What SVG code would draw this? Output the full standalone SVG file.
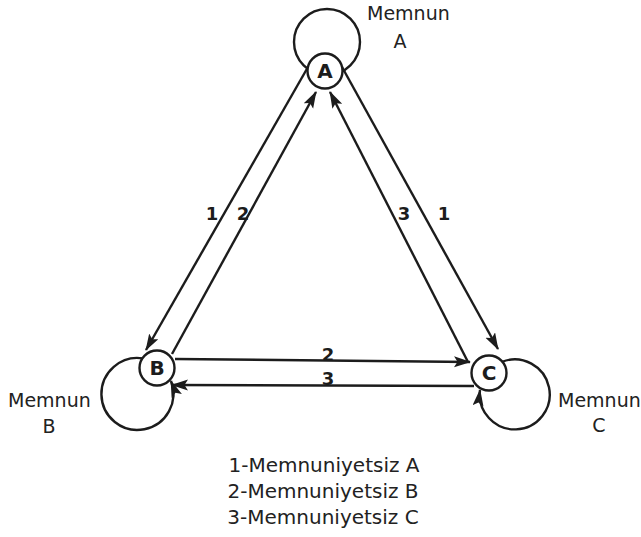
<svg xmlns="http://www.w3.org/2000/svg" width="641" height="537" viewBox="0 0 641 537">
<style>
  .ln { stroke: #1c1c1c; stroke-width: 2.4; fill: none; }
  .arr { marker-end: url(#ah); }
  .nd { fill: #fff; stroke: #1c1c1c; stroke-width: 2.4; }
  .nl { font-family: "DejaVu Sans", sans-serif; font-size: 20px; font-weight: bold; fill: #1c1c1c; text-anchor: middle; }
  .el { font-family: "DejaVu Sans", sans-serif; font-size: 18px; font-weight: bold; fill: #1c1c1c; text-anchor: middle; }
  .tx { font-family: "DejaVu Sans", sans-serif; font-size: 19px; fill: #222; }
  .lg { font-family: "DejaVu Sans", sans-serif; font-size: 20px; fill: #222; text-anchor: middle; }
</style>
<defs>
  <marker id="ah" markerUnits="userSpaceOnUse" markerWidth="18" markerHeight="12" refX="16" refY="5.5" orient="auto">
    <path d="M0,0 L17,5.5 L0,11 L3.5,5.5 Z" fill="#1c1c1c"/>
  </marker>
</defs>
<rect width="641" height="537" fill="#fff"/>
<g id="connectors">
  <!-- self loops -->
  <circle class="ln" cx="327" cy="42" r="33"/>
  <path class="ln arr" d="M143,358.4 A36,36 0 1 0 171,381"/>
  <path class="ln arr" d="M502,361.8 A35,35 0 1 1 480,390"/>
  <!-- A-B -->
  <line class="ln arr" x1="308" y1="67" x2="146" y2="350"/>
  <line class="ln arr" x1="172" y1="354" x2="316" y2="92"/>
  <!-- A-C -->
  <line class="ln arr" x1="342" y1="67" x2="498" y2="349"/>
  <line class="ln arr" x1="468" y1="362" x2="330" y2="92"/>
  <!-- B-C -->
  <line class="ln arr" x1="175" y1="359" x2="470" y2="362"/>
  <line class="ln arr" x1="474" y1="386" x2="172" y2="385"/>
  <text class="el" x="212" y="220">1</text>
  <text class="el" x="243" y="220">2</text>
  <text class="el" x="404" y="220">3</text>
  <text class="el" x="444" y="220">1</text>
  <text class="el" x="328" y="361">2</text>
  <text class="el" x="328" y="385">3</text>
</g>
<g id="nodeA">
  <circle class="nd" cx="325" cy="71" r="17.5"/>
  <text class="nl" x="325" y="78">A</text>
  <text class="tx" x="367" y="20">Memnun</text>
  <text class="tx" x="400" y="48" text-anchor="middle">A</text>
</g>
<g id="nodeB">
  <circle class="nd" cx="157" cy="368" r="17.5"/>
  <text class="nl" x="157" y="375">B</text>
  <text class="tx" x="8" y="407">Memnun</text>
  <text class="tx" x="49" y="433" text-anchor="middle">B</text>
</g>
<g id="nodeC">
  <circle class="nd" cx="489" cy="373" r="17.5"/>
  <text class="nl" x="489" y="380">C</text>
  <text class="tx" x="558" y="407">Memnun</text>
  <text class="tx" x="599" y="432" text-anchor="middle">C</text>
</g>
<g id="legend">
  <text class="lg" x="324" y="472">1-Memnuniyetsiz A</text>
  <text class="lg" x="323" y="498">2-Memnuniyetsiz B</text>
  <text class="lg" x="323" y="524">3-Memnuniyetsiz C</text>
</g>
</svg>
